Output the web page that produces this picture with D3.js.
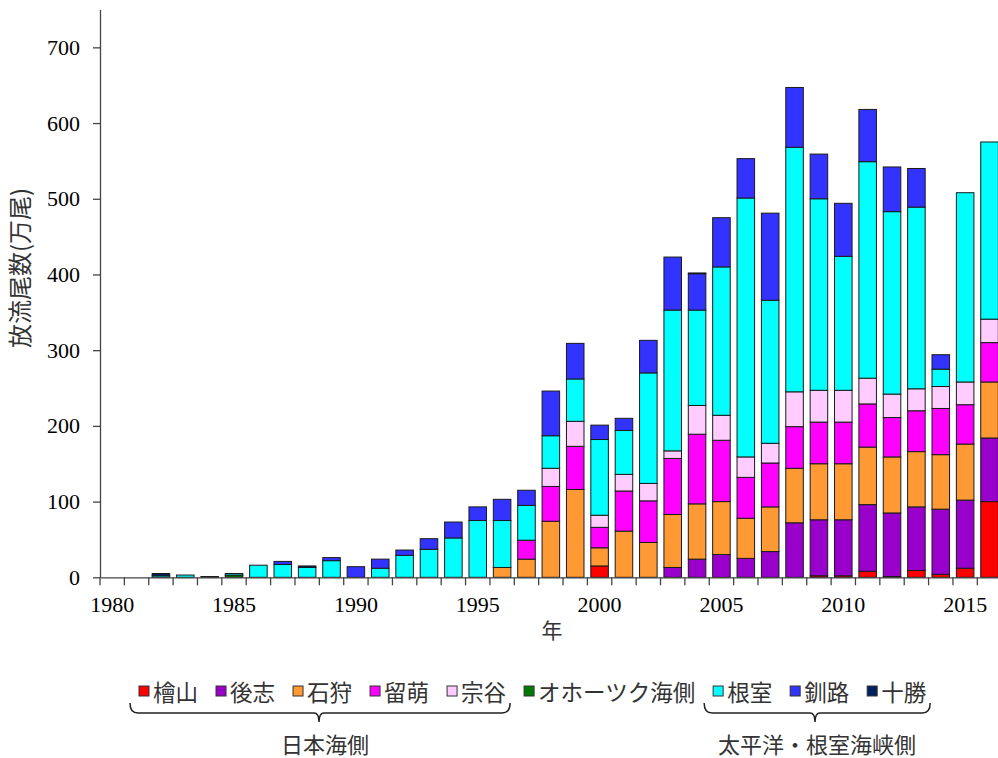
<!DOCTYPE html>
<html>
<head>
<meta charset="utf-8">
<script src="https://d3js.org/d3.v7.min.js"></script>
<style>
  body { margin: 0; background: #fff; }
</style>
</head>
<body>
<div id="chart"></div>
<script>
// years on the x axis
var years = [1980, 1981, 1982, 1983, 1984, 1985, 1986, 1987, 1988, 1989,
             1990, 1991, 1992, 1993, 1994, 1995, 1996, 1997, 1998, 1999,
             2000, 2001, 2002, 2003, 2004, 2005, 2006, 2007, 2008, 2009,
             2010, 2011, 2012, 2013, 2014, 2015, 2016];
var yearLabels = [1980, 1985, 1990, 1995, 2000, 2005, 2010, 2015];
var valueTicks = [0, 100, 200, 300, 400, 500, 600, 700];

// release counts (万尾) per area
var hiyama     = [0,0,0,0,0, 0,0,0,0,0, 0,0,0,0,0, 0,0,0,0,0, 15,0,0,0,0, 0,0,0,0,2, 2,8,1,9,4, 12,100];
var shiribeshi = [0,0,0,0,0, 0,0,0,0,0, 0,0,0,0,0, 0,0,0,0,0, 0,0,0,13,24, 30,25,34,72,74, 74,88,84,84,86, 90,84];
var ishikari   = [0,0,0,0,0, 0,0,0,0,0, 0,0,0,0,0, 0,13,24,74,116, 24,61,46,70,73, 70,53,59,72,74, 74,76,74,73,72, 74,74];
var rumoi      = [0,0,0,0,0, 0,0,0,0,0, 0,0,0,0,0, 0,0,25,46,57, 27,53,55,74,92, 81,54,58,55,55, 55,57,52,54,61, 52,52];
var soya       = [0,0,0,0,0, 0,0,0,0,0, 0,0,0,0,0, 0,0,0,24,33, 16,22,23,10,38, 33,27,26,46,42, 42,34,31,29,29, 30,31];
var okhotsk    = [0,0,0,0,0, 3,0,0,0,0, 0,0,0,0,0, 0,0,0,0,0, 0,0,0,0,0, 0,0,0,0,0, 0,0,0,0,0, 0,0];
var nemuro     = [0,0,2,3,0, 2,16,17,13,22, 0,12,29,37,52, 75,62,46,43,56, 100,58,146,186,126, 196,342,189,323,253, 177,286,241,240,23, 250,234];
var kushiro    = [0,0,0,0,0, 0,0,4,0,4, 14,12,7,14,21, 18,28,20,59,47, 19,16,43,70,48, 65,52,115,79,59, 70,69,59,51,19, 0,0];
var tokachi    = [0,0,3,0,1, 0,0,0,2,0, 0,0,0,0,0, 0,0,0,0,0, 0,0,0,0,1, 0,0,0,0,0, 0,0,0,0,0, 0,0];

var areaNames  = ["檜山", "後志", "石狩", "留萌", "宗谷", "オホーツク海側", "根室", "釧路", "十勝"];
var areaColors = ["#ff0000", "#9900cc", "#ff9933", "#ff00ff", "#ffccff", "#007a00", "#00ffff", "#3333ff", "#002060"];
var areaSeries = [hiyama, shiribeshi, ishikari, rumoi, soya, okhotsk, nemuro, kushiro, tokachi];

(function () {
  "use strict";

  // table for d3.stack
  var table = years.map(function (yr, i) {
    var row = { year: yr };
    areaNames.forEach(function (n, k) { row[n] = areaSeries[k][i]; });
    return row;
  });

  var W = 998, H = 758;
  var plotLeft = 100, plotRight = 1001.7, plotTop = 9.5, plotBottom = 577.3;

  var svg = d3.select("#chart").append("svg")
      .attr("width", W)
      .attr("height", H);

  var xBand = d3.scaleBand().domain(years).range([plotLeft, plotRight]);
  var xBar = d3.scaleBand().domain(years).range([plotLeft, plotRight])
      .paddingInner(0.28).paddingOuter(0.14);
  var y = d3.scaleLinear().domain([0, 750]).range([plotBottom, plotTop]);

  var stacked = d3.stack().keys(areaNames)(table);

  // bars
  svg.append("g").selectAll("g")
      .data(stacked)
    .enter().append("g")
      .attr("fill", function (d, i) { return areaColors[i]; })
    .selectAll("rect")
      .data(function (d) { return d.filter(function (p) { return p[1] - p[0] > 0; }); })
    .enter().append("rect")
      .attr("x", function (d) { return xBar(d.data.year); })
      .attr("width", xBar.bandwidth())
      .attr("y", function (d) { return y(d[1]); })
      .attr("height", function (d) { return y(d[0]) - y(d[1]); })
      .attr("stroke", "#1a1a1a")
      .attr("stroke-width", 1);

  // y axis
  var yAxis = svg.append("g")
      .attr("transform", "translate(" + plotLeft + ",0)")
      .call(d3.axisLeft(y).tickValues(valueTicks).tickSize(7).tickSizeOuter(0).tickPadding(13));
  yAxis.select(".domain").attr("stroke", "#444").attr("stroke-width", 1.3);
  yAxis.selectAll(".tick line").attr("stroke", "#444").attr("stroke-width", 1.3);
  yAxis.selectAll("text")
      .style("font-family", "'Liberation Serif', serif")
      .style("font-size", "22px")
      .attr("fill", "#000");

  // x axis (labels centred in each year slot)
  var xAxis = svg.append("g")
      .attr("transform", "translate(0," + plotBottom + ")")
      .call(d3.axisBottom(xBand).tickValues(yearLabels).tickSize(0).tickSizeOuter(0));
  xAxis.select(".domain").attr("stroke", "#444").attr("stroke-width", 1.3);
  xAxis.selectAll("text")
      .attr("y", 35)
      .attr("dy", 0)
      .style("font-family", "'Liberation Serif', serif")
      .style("font-size", "22px")
      .attr("fill", "#000");

  // tick marks on the slot boundaries
  var bounds = years.map(function (yr) { return xBand(yr); }).concat([plotRight]);
  svg.append("g").selectAll("line")
      .data(bounds)
    .enter().append("line")
      .attr("x1", function (d) { return d; })
      .attr("x2", function (d) { return d; })
      .attr("y1", plotBottom)
      .attr("y2", plotBottom + 8)
      .attr("stroke", "#444")
      .attr("stroke-width", 1.3);

  // axis titles
  svg.append("text")
      .attr("transform", "translate(18,268) rotate(-90)")
      .attr("text-anchor", "middle")
      .attr("dominant-baseline", "central")
      .style("font-family", "'Noto Sans CJK JP', sans-serif")
      .style("font-size", "24px")
      .attr("fill", "#333")
      .text("放流尾数(万尾)");

  svg.append("text")
      .attr("x", 552)
      .attr("y", 629)
      .attr("text-anchor", "middle")
      .attr("dominant-baseline", "central")
      .style("font-family", "'Noto Sans CJK JP', sans-serif")
      .style("font-size", "21px")
      .attr("fill", "#333")
      .text("年");

  // legend
  var legendY = 691;
  var lx = 139;
  var itemPos = [];
  var legend = svg.append("g");
  areaNames.forEach(function (n, i) {
    legend.append("rect")
        .attr("x", lx)
        .attr("y", legendY - 5)
        .attr("width", 10)
        .attr("height", 10)
        .attr("fill", areaColors[i])
        .attr("stroke", "#333")
        .attr("stroke-width", 1);
    var t = legend.append("text")
        .attr("x", lx + 14)
        .attr("y", legendY)
        .attr("dominant-baseline", "central")
        .style("font-family", "'Noto Sans CJK JP', sans-serif")
        .style("font-size", "22.5px")
        .attr("fill", "#333")
        .text(n);
    var w = t.node().getComputedTextLength();
    itemPos.push({ start: lx, end: lx + 14 + w });
    lx += 14 + w + 18;
  });

  // braces grouping the legend
  function brace(x0, x1, xc) {
    var yt = 703, yh = 713, yb = 722;
    return "M" + x0 + "," + yt +
      " Q" + x0 + "," + yh + " " + (x0 + 8) + "," + yh +
      " H" + (xc - 5) +
      " Q" + xc + "," + yh + " " + xc + "," + yb +
      " Q" + xc + "," + yh + " " + (xc + 5) + "," + yh +
      " H" + (x1 - 8) +
      " Q" + x1 + "," + yh + " " + x1 + "," + yt;
  }
  var groups = [
    { from: 0, to: 4, label: "日本海側", xc: 319, lxc: 325 },
    { from: 6, to: 8, label: "太平洋・根室海峡側", xc: 815, lxc: 817 }
  ];
  groups.forEach(function (g) {
    var x0 = itemPos[g.from].start - 9;
    var x1 = itemPos[g.to].end + 4;
    svg.append("path")
        .attr("d", brace(x0, x1, g.xc))
        .attr("fill", "none")
        .attr("stroke", "#222")
        .attr("stroke-width", 1.5);
    svg.append("text")
        .attr("x", g.lxc)
        .attr("y", 743)
        .attr("text-anchor", "middle")
        .attr("dominant-baseline", "central")
        .style("font-family", "'Noto Sans CJK JP', sans-serif")
        .style("font-size", "22px")
        .attr("fill", "#333")
        .text(g.label);
  });
})();
</script>
</body>
</html>
